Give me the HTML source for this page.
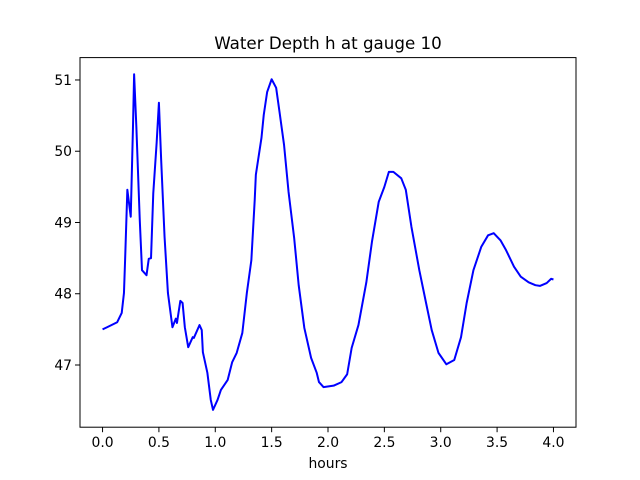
<!DOCTYPE html>
<html><head><meta charset="utf-8"><style>
html,body{margin:0;padding:0;background:#fff;}
svg{display:block;font-family:"DejaVu Sans","Liberation Sans",sans-serif;}
</style></head><body>
<svg id="chart" width="640" height="480">
<rect width="640" height="480" fill="#fff"/>
<g id="series"></g>
<g id="axes"></g>
<text x="328" y="49" text-anchor="middle" font-size="16.7" fill="#000">Water Depth h at gauge 10</text>
<text x="328" y="468" text-anchor="middle" font-size="13.9" fill="#000">hours</text>
</svg>
<script>
const hours = [0.00,0.04,0.13,0.17,0.19,0.20,0.22,0.25,0.27,0.28,0.30,0.33,0.35,0.39,0.41,0.43,0.45,0.48,0.50,0.52,0.55,0.58,0.62,0.65,0.66,0.69,0.71,0.73,0.76,0.80,0.81,0.86,0.88,0.89,0.93,0.96,0.98,1.02,1.05,1.11,1.15,1.19,1.24,1.28,1.32,1.35,1.36,1.41,1.43,1.46,1.50,1.54,1.57,1.61,1.65,1.70,1.74,1.79,1.85,1.90,1.92,1.96,2.05,2.12,2.17,2.21,2.27,2.34,2.39,2.45,2.50,2.54,2.58,2.65,2.69,2.74,2.81,2.87,2.92,2.98,3.05,3.12,3.18,3.23,3.29,3.36,3.42,3.47,3.53,3.58,3.65,3.71,3.78,3.84,3.88,3.94,3.98,4.00];
const depth = [47.50,47.53,47.60,47.73,48.01,48.47,49.46,49.08,50.34,51.08,50.34,49.04,48.33,48.26,48.49,48.50,49.41,50.12,50.68,49.88,48.80,48.01,47.53,47.65,47.59,47.90,47.87,47.53,47.25,47.39,47.38,47.56,47.49,47.18,46.89,46.51,46.37,46.51,46.65,46.79,47.04,47.17,47.45,48.01,48.47,49.32,49.67,50.19,50.51,50.83,51.01,50.89,50.55,50.09,49.43,48.78,48.12,47.52,47.10,46.89,46.76,46.69,46.71,46.76,46.87,47.24,47.56,48.16,48.73,49.29,49.50,49.71,49.71,49.62,49.46,48.94,48.33,47.87,47.49,47.17,47.01,47.07,47.39,47.87,48.33,48.66,48.82,48.85,48.75,48.61,48.38,48.24,48.16,48.12,48.11,48.15,48.21,48.20];
const xTicks = [0.0,0.5,1.0,1.5,2.0,2.5,3.0,3.5,4.0];
const xTickLabels = ["0.0","0.5","1.0","1.5","2.0","2.5","3.0","3.5","4.0"];
const yTicks = [47,48,49,50,51];
const yTickLabels = ["47","48","49","50","51"];

const L=80,R=576,T=57.6,B=427.2;
const X0=-0.2,X1=4.2,Y0=46.127,Y1=51.314;
function sx(v){return L+(v-X0)/(X1-X0)*(R-L);}
function sy(v){return B-(v-Y0)/(Y1-Y0)*(B-T);}
const NS="http://www.w3.org/2000/svg";
const series=document.getElementById('series');
const axes=document.getElementById('axes');

const line=document.createElementNS(NS,'polyline');
line.setAttribute('points',hours.map((h,i)=>sx(h).toFixed(2)+','+sy(depth[i]).toFixed(2)).join(' '));
line.setAttribute('fill','none');
line.setAttribute('stroke','#0000ff');
line.setAttribute('stroke-width','2');
line.setAttribute('stroke-linejoin','round');


series.appendChild(line);

const frame=document.createElementNS(NS,'rect');
frame.setAttribute('x',L);frame.setAttribute('y',T);
frame.setAttribute('width',R-L);frame.setAttribute('height',B-T);
frame.setAttribute('fill','none');frame.setAttribute('stroke','#000');frame.setAttribute('stroke-width','1');


axes.appendChild(frame);

xTicks.forEach((v,i)=>{
  const x=sx(v);
  const t=document.createElementNS(NS,'line');
  t.setAttribute('x1',x);t.setAttribute('x2',x);t.setAttribute('y1',B);t.setAttribute('y2',B+5);
  t.setAttribute('stroke','#000');t.setAttribute('stroke-width','1');
  
  
  axes.appendChild(t);
  const lb=document.createElementNS(NS,'text');
  lb.setAttribute('x',x);lb.setAttribute('y',B+20);lb.setAttribute('text-anchor','middle');
  lb.setAttribute('font-size','13.9');lb.textContent=xTickLabels[i];
  
  
  axes.appendChild(lb);
});
yTicks.forEach((v,i)=>{
  const y=sy(v);
  const t=document.createElementNS(NS,'line');
  t.setAttribute('x1',L-5);t.setAttribute('x2',L);t.setAttribute('y1',y);t.setAttribute('y2',y);
  t.setAttribute('stroke','#000');t.setAttribute('stroke-width','1');
  
  
  axes.appendChild(t);
  const lb=document.createElementNS(NS,'text');
  lb.setAttribute('x',L-8);lb.setAttribute('y',y+5);lb.setAttribute('text-anchor','end');
  lb.setAttribute('font-size','13.9');lb.textContent=yTickLabels[i];
  
  
  axes.appendChild(lb);
});
</script>
</body></html>
